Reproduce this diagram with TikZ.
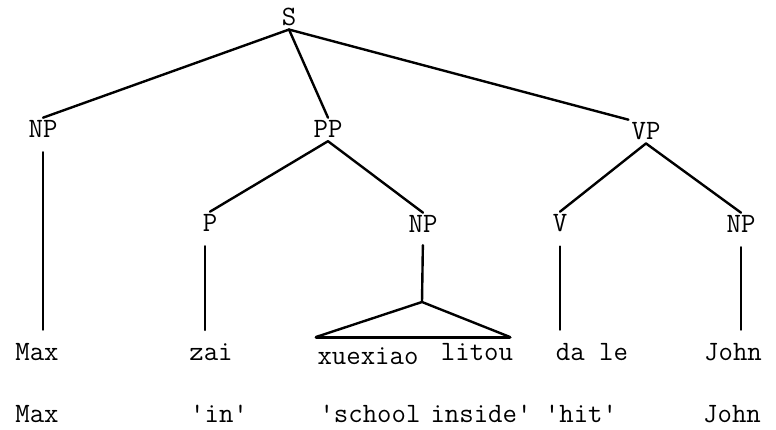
\documentclass[tikz,border=0pt]{standalone}
\usepackage{fontspec}
\begin{document}
\begin{tikzpicture}[x=1pt,y=-1pt,
  lab/.style={anchor=base,inner sep=3pt,font=\fontsize{28}{32}\selectfont\ttfamily},
  edge/.style={line width=2.4pt,line cap=round},
  vline/.style={edge,shorten <=11pt,shorten >=10pt}]
\useasboundingbox (0,0) rectangle (776,430);
% category labels
\node[lab] (S)   at (289,26)  {S};
\node[lab] (NPa) at (43,138)  {NP};
\node[lab] (PP)  at (328,138) {PP};
\node[lab] (VP)  at (646,140) {VP};
\node[lab] (P)   at (210,232) {P};
\node[lab] (NPb) at (423,233) {NP};
\node[lab] (V)   at (560,232) {V};
\node[lab] (NPc) at (741,233) {NP};
% words
\node[lab] (w1) at (37,360)    {Max};
\node[lab] (w2) at (211,360)   {zai};
\node[lab] (w3) at (368,364)   {xuexiao};
\node[lab] (w4) at (477,360)   {litou};
\node[lab] (w5) at (592,360)   {da le};
\node[lab] (w6) at (733,360)   {John};
% glosses
\node[lab] (g1) at (37,422)    {Max};
\node[lab] (g2) at (219,422)   {'in'};
\node[lab] (g3) at (370,422)   {'school};
\node[lab] (g4) at (481,422)   {inside'};
\node[lab] (g5) at (581,422)   {'hit'};
\node[lab] (g6) at (732,422)   {John};
% tree edges
\draw[edge] (S.south) -- (NPa.north);
\draw[edge] (S.south) -- (PP.north);
\draw[edge] (S.south) -- (VP.north west);
\draw[edge] (PP.south) -- (P.north);
\draw[edge] (PP.south) -- (NPb.north);
\draw[edge] (VP.south) -- (V.north);
\draw[edge] (VP.south) -- (NPc.north);
\draw[vline] (NPa.south) -- (NPa.south |- w1.north);
\draw[vline] ([xshift=-5pt]P.south) -- ([xshift=-5pt]P.south |- w2.north);
\draw[vline] (V.south) -- (V.south |- w5.north);
\draw[vline] (NPc.south) -- (NPc.south |- w6.north);
% triangle
\coordinate (apex) at (422,302);
\coordinate (tl) at (316,337);
\coordinate (tr) at (510,337);
\draw[edge,shorten <=9pt] (NPb.south) -- (apex);
\draw[edge,line join=round] (tl) -- (apex) -- (tr);
\draw[line width=3pt,line cap=round] (tl) -- (tr);
\end{tikzpicture}
\end{document}
